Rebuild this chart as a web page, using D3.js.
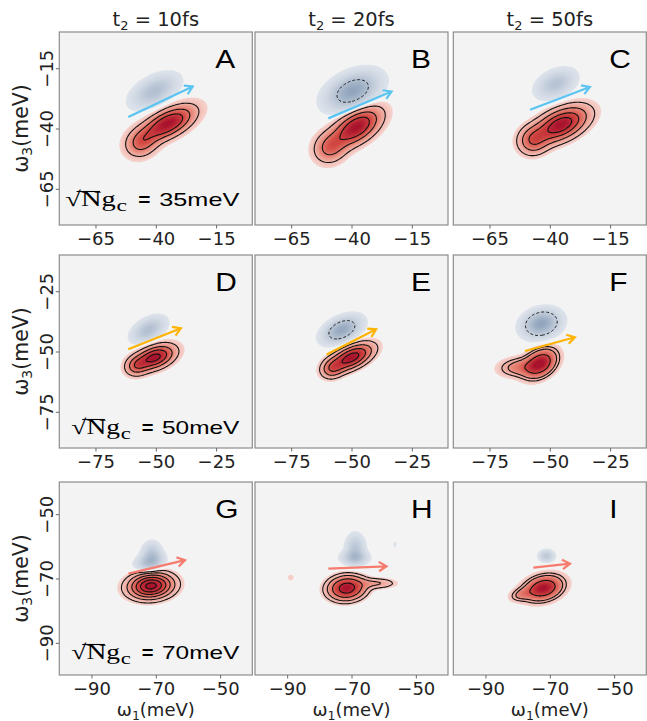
<!DOCTYPE html>
<html>
<head>
<meta charset="utf-8">
<script src="https://cdn.jsdelivr.net/npm/d3@7"></script>
<style>
  body { margin: 0; background: #fff; }
  svg { display: block; font-family: "DejaVu Sans", sans-serif; }
</style>
</head>
<body>
<svg id="chart" width="647" height="721"></svg>
<script>
// rows = collective coupling, columns = waiting time t2
const couplings = [35, 50, 70];
const waitTimes = [10, 20, 50];
const panelLetters = ["A", "B", "C", "D", "E", "F", "G", "H", "I"];
const rowDomains = [[-80, 0], [-90, -10], [-100, -40]];
const rowTicks = [[-65, -40, -15], [-75, -50, -25], [-90, -70, -50]];
const arrowColors = ["#5bc4f1", "#ffb405", "#f77c70"];

// peaks: [w1, w3, half-length, half-width, tilt deg, amplitude]
// amplitude > 0 red (bleach), < 0 blue (absorption)
const peaksA = [[-35, -38, 18, 8, 27, 1], [-46, -46, 9, 7.5, 30, 0.45], [-40.5, -24.5, 13, 7, 28, -0.5]];
const peaksB = [[-38, -39.5, 17, 9, 33, 1], [-49, -48, 9, 8, 35, 0.45], [-39.5, -24.5, 16, 9.5, 25, -0.85]];
const peaksC = [[-35.5, -38.5, 18, 9, 25, 1], [-47, -45, 8, 7.5, 25, 0.45], [-37.5, -21.5, 10.5, 6.5, 25, -0.45]];
const peaksD = [[-50.5, -52.5, 13, 6.8, 20, 1], [-58, -56, 6, 5, 20, 0.4], [-53, -41, 9.5, 5.5, 30, -0.5]];
const peaksE = [[-50, -52.5, 14, 6.5, 25, 1], [-58, -57, 6, 5, 25, 0.4], [-54, -41, 11.5, 6.5, 25, -0.8]];
const peaksF = [[-54, -55, 11, 7.5, 35, 1], [-63, -56.5, 10, 4.8, 5, 0.35], [-53.5, -38.5, 11, 7.8, 15, -0.85]];
const peaksG = [[-71.5, -72.3, 10.5, 6, 5, 1], [-72, -65, 5.6, 3.2, 12, -0.45], [-71.2, -62.5, 3.8, 4.6, 0, -0.4]];
const peaksH = [[-71.5, -73, 8.5, 5.5, 5, 1], [-62, -71.5, 6.5, 1.8, 0, 0.22], [-69, -63.6, 5.2, 2.8, 0, -0.45],
                [-68.8, -60.5, 3.6, 5.2, 0, -0.4], [-88.9, -69.7, 0.9, 0.9, 0, 0.08], [-56.5, -59.4, 0.5, 0.9, 0, -0.08]];
const peaksI = [[-72, -73, 9, 5.5, 15, 1], [-79, -75, 4, 2.2, 15, 0.25], [-71, -63, 3, 2.3, 0, -0.4]];
const panelPeaks = [peaksA, peaksB, peaksC, peaksD, peaksE, peaksF, peaksG, peaksH, peaksI];

// solid contour levels (positive part) and dashed levels (negative part)
const lineLevels = [
  [0.16, 0.4, 0.66], [0.15, 0.4, 0.68], [0.12, 0.3, 0.55, 0.8],
  [0.14, 0.36, 0.62, 0.9], [0.12, 0.3, 0.55, 0.85], [0.14, 0.25, 0.6],
  [0.1, 0.22, 0.38, 0.56, 0.75, 0.93], [0.1, 0.22, 0.45, 0.8], [0.14, 0.25, 0.6]
];
const dashedLevels = [[], [-0.5], [], [], [-0.4], [-0.3], [], [], []];

// arrows (w1, w3) start -> end
const arrowFrom = [[-51.4, -35.2], [-49.6, -35.8], [-48.2, -32.2], [-61.4, -49.1], [-60.3, -51.2], [-60.3, -49.8],
                   [-78.5, -68.5], [-77.2, -66.9], [-75.1, -66.6]];
const arrowTo = [[-24.7, -22.6], [-23.4, -24.7], [-23.4, -22.8], [-39.6, -40.4], [-39.8, -40.8], [-39.6, -44.1],
                 [-60.9, -64.3], [-59.1, -66.2], [-63.7, -65.4]];

const size = 193;
const colLeft = [59.3, 255, 453.3];
const rowTop = [32, 255, 482];
const labelStart = [6, 12, 12];
const labelEnd = 180;
const labelBaseline = [19, 14, 16];
const n = 160;
const EDGE = 0.05;

const redColor = d3.scaleLinear().domain([0.05, 0.3, 0.6, 1])
  .range(["#f5cfc9", "#e88a7c", "#d24942", "#a70f2c"]);
const blueColor = d3.scaleLinear().domain([0.05, 1]).range(["#dce2ea", "#8197b3"]);
const fillSteps = d3.range(0.05, 1.0, 0.025);

function field(peaks, x, y) {
  let s = 0;
  for (const [cx, cy, a, b, ang, amp] of peaks) {
    const t = ang * Math.PI / 180, dx = x - cx, dy = y - cy;
    const u = (dx * Math.cos(t) + dy * Math.sin(t)) / a;
    const v = (-dx * Math.sin(t) + dy * Math.cos(t)) / b;
    s += amp * Math.exp(Math.log(EDGE / Math.abs(amp)) * (u * u + v * v));
  }
  return s;
}

const svg = d3.select("#chart");
const defs = svg.append("defs");

for (let r = 0; r < 3; r++) {
  for (let c = 0; c < 3; c++) {
    const k = r * 3 + c;
    const L = colLeft[c], T = rowTop[r];
    const [d0, d1] = rowDomains[r];
    const x = d3.scaleLinear().domain([d0, d1]).range([L, L + size]);
    const y = d3.scaleLinear().domain([d0, d1]).range([T + size, T]);

    defs.append("clipPath").attr("id", "clip" + k)
      .append("rect").attr("x", L).attr("y", T).attr("width", size).attr("height", size);

    const g = svg.append("g");
    g.append("rect").attr("x", L).attr("y", T).attr("width", size).attr("height", size).attr("fill", "#f3f3f3");

    // sample the map on a grid
    const step = (d1 - d0) / n;
    const pos = new Float64Array(n * n), neg = new Float64Array(n * n);
    for (let j = 0; j < n; j++) {
      for (let i = 0; i < n; i++) {
        const v = field(panelPeaks[k], d0 + (i + 0.5) * step, d1 - (j + 0.5) * step);
        pos[j * n + i] = v;
        neg[j * n + i] = -v;
      }
    }
    const proj = d3.geoTransform({
      point(gx, gy) { this.stream.point(x(d0 + gx * step), y(d1 - gy * step)); }
    });
    const path = d3.geoPath(proj);

    const blobs = g.append("g").attr("clip-path", `url(#clip${k})`);
    blobs.append("g").selectAll("path")
      .data(d3.contours().size([n, n]).thresholds(fillSteps)(neg))
      .join("path").attr("d", path).attr("fill", d => blueColor(d.value));
    blobs.append("g").selectAll("path")
      .data(d3.contours().size([n, n]).thresholds(fillSteps)(pos))
      .join("path").attr("d", path).attr("fill", d => redColor(d.value));
    blobs.append("g").selectAll("path")
      .data(d3.contours().size([n, n]).thresholds(lineLevels[k])(pos))
      .join("path").attr("d", path).attr("fill", "none").attr("stroke", "#111").attr("stroke-width", 1.1);
    blobs.append("g").selectAll("path")
      .data(d3.contours().size([n, n]).thresholds(dashedLevels[k].map(v => -v))(neg))
      .join("path").attr("d", path).attr("fill", "none").attr("stroke", "#222")
      .attr("stroke-width", 1).attr("stroke-dasharray", "3,2");

    // arrow
    const p0 = [x(arrowFrom[k][0]), y(arrowFrom[k][1])];
    const p1 = [x(arrowTo[k][0]), y(arrowTo[k][1])];
    const th = Math.atan2(p1[1] - p0[1], p1[0] - p0[0]), hl = 9, ha = 0.55;
    const h1 = [p1[0] - hl * Math.cos(th - ha), p1[1] - hl * Math.sin(th - ha)];
    const h2 = [p1[0] - hl * Math.cos(th + ha), p1[1] - hl * Math.sin(th + ha)];
    g.append("path")
      .attr("d", `M${p0}L${p1}M${h1}L${p1}L${h2}`)
      .attr("fill", "none").attr("stroke", arrowColors[r]).attr("stroke-width", 2.2);

    // frame
    g.append("rect").attr("x", L).attr("y", T).attr("width", size).attr("height", size)
      .attr("fill", "none").attr("stroke", "#8c8c8c").attr("stroke-width", 1.2);

    // panel letter
    g.append("text").attr("transform", `translate(${L + 156},${T + 36}) scale(1.15,1)`)
      .attr("font-family", "Liberation Sans").attr("font-size", 26).attr("fill", "#000")
      .text(panelLetters[k]);

    // x axis
    const gx = svg.append("g").attr("transform", `translate(0,${T + size})`)
      .call(d3.axisBottom(x).tickValues(rowTicks[r]).tickSize(3.5).tickPadding(3.5))
      .attr("font-size", 18).attr("font-family", "DejaVu Sans");
    gx.select(".domain").remove();
    gx.selectAll("line").attr("stroke", "#666");
    gx.selectAll("text").attr("fill", "#222");

    if (c === 0) {
      const gy = svg.append("g").attr("transform", `translate(${L},0)`)
        .call(d3.axisLeft(y).tickValues(rowTicks[r]).tickSize(3.5))
        .attr("font-size", 18).attr("font-family", "DejaVu Sans");
      gy.select(".domain").remove();
      gy.selectAll("line").attr("stroke", "#666");
      gy.selectAll("text").attr("transform", "rotate(-90)").attr("x", 0).attr("y", -6)
        .attr("dy", 0).attr("text-anchor", "middle").attr("fill", "#222");

      // y label
      const yl = svg.append("text").attr("transform", `translate(28,${T + size / 2}) rotate(-90)`)
        .attr("text-anchor", "middle").attr("font-size", 20.5).attr("fill", "#222");
      yl.append("tspan").text("ω");
      yl.append("tspan").attr("font-size", 14).attr("dy", 4).text("3");
      yl.append("tspan").attr("dy", -4).text("(meV)");

      // coupling label
      const span = labelEnd - labelStart[r];
      const lx = L + labelStart[r], ly = T + size - labelBaseline[r];
      g.append("text").attr("x", lx).attr("y", ly).attr("font-family", "Liberation Serif")
        .attr("font-size", 21).attr("textLength", 0.29 * span).attr("lengthAdjust", "spacingAndGlyphs")
        .text("√Ng");
      g.append("line").attr("x1", lx + 0.065 * span).attr("x2", lx + 0.2 * span)
        .attr("y1", ly - 14.5).attr("y2", ly - 14.5).attr("stroke", "#000").attr("stroke-width", 1.1);
      g.append("text").attr("x", lx + 0.295 * span).attr("y", ly + 5).attr("font-family", "Liberation Serif")
        .attr("font-size", 16).attr("textLength", 0.06 * span).attr("lengthAdjust", "spacingAndGlyphs")
        .text("c");
      g.append("text").attr("x", lx + 0.42 * span).attr("y", ly).attr("font-family", "Liberation Sans")
        .attr("font-weight", "bold").attr("font-size", 19).attr("textLength", 0.07 * span)
        .attr("lengthAdjust", "spacingAndGlyphs").text("=");
      g.append("text").attr("x", lx + 0.54 * span).attr("y", ly).attr("font-family", "Liberation Sans")
        .attr("font-size", 19).attr("textLength", 0.46 * span).attr("lengthAdjust", "spacingAndGlyphs")
        .text(couplings[r] + "meV");
    }

    if (r === 0) {
      const tt = svg.append("text").attr("x", L + size / 2).attr("y", 26).attr("text-anchor", "middle")
        .attr("font-size", 19.5).attr("fill", "#222").style("white-space", "pre");
      tt.append("tspan").text("t");
      tt.append("tspan").attr("font-size", 13).attr("dy", 4).text("2");
      tt.append("tspan").attr("dy", -4).text(` = ${waitTimes[c]}fs`);
    }

    if (r === 2) {
      const xl = svg.append("text").attr("x", L + size / 2).attr("y", 716).attr("text-anchor", "middle")
        .attr("font-size", 18).attr("fill", "#222");
      xl.append("tspan").text("ω");
      xl.append("tspan").attr("font-size", 12.5).attr("dy", 3.5).text("1");
      xl.append("tspan").attr("dy", -3.5).text("(meV)");
    }
  }
}
</script>
</body>
</html>
